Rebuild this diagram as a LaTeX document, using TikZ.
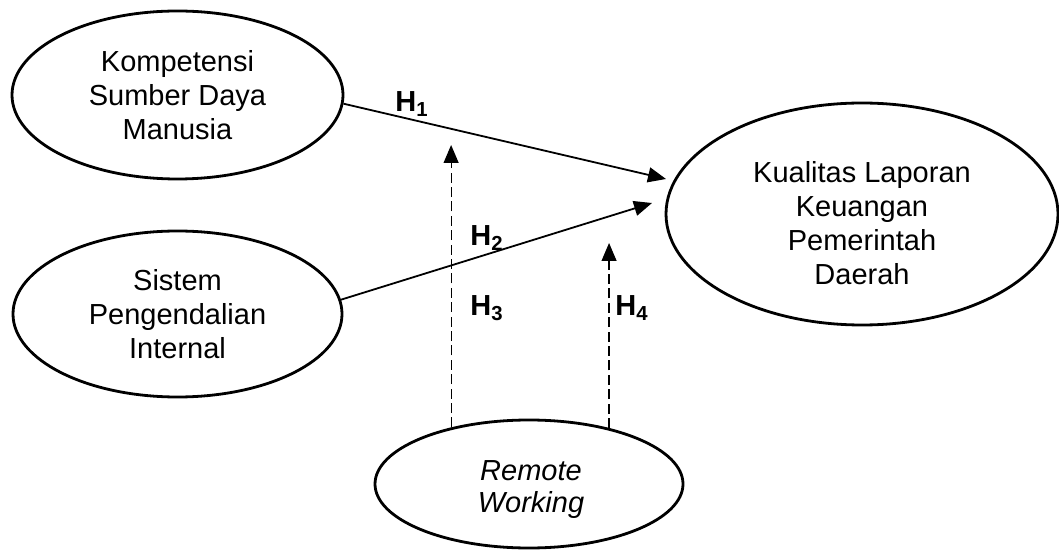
\documentclass[tikz,border=0pt]{standalone}
\usepackage{fontspec}
\setmainfont{Liberation Sans}
\usetikzlibrary{shapes.geometric,arrows.meta}
\begin{document}
\begin{tikzpicture}[x=0.5pt,y=-0.5pt,
  construct/.style={draw,ellipse,line width=1.4pt,inner sep=0pt,align=center,
    font=\fontsize{14.5}{17}\selectfont},
  ctext/.style={inner sep=0pt,align=center,font=\fontsize{14.5}{17}\selectfont},
  hyp/.style={inner sep=0pt,font=\fontsize{14.5}{17}\selectfont\bfseries},
  hyparrow/.style={line width=0.9pt,-{Triangle[length=9pt,width=7.5pt]}},
  modarrow/.style={line width=0.6pt,dash pattern=on 5pt off 2.2pt,-{Triangle[length=9pt,width=7.5pt]}}
]
\useasboundingbox (0,0) rectangle (1059,550);

% latent constructs
\node[construct,minimum width=165.5pt,minimum height=84pt] (ksdm) at (177.5,95)
  {Kompetensi\\Sumber Daya\\Manusia};
\node[construct,minimum width=164.5pt,minimum height=83pt] (spi) at (177.5,314)
  {Sistem\\Pengendalian\\Internal};
\node[construct,minimum width=196pt,minimum height=111pt] (klkpd) at (862,214) {};
\node[ctext] (klkpdtext) at (862,223)
  {Kualitas Laporan\\Keuangan\\Pemerintah\\Daerah};
\node[construct,minimum width=154pt,minimum height=64pt] (rw) at (529,484) {};
\node[ctext,font=\fontsize{14.5}{16}\selectfont\itshape] (rwtext) at (531,490)
  {Remote\\Working};

% direct effects
\coordinate (t1) at (666,179);
\coordinate (t2) at (652,203);
\draw[hyparrow] (ksdm.-3) -- (t1);
\draw[hyparrow] (spi.5) -- (t2);

% moderating effects
\coordinate (m3) at (452,145);
\coordinate (m4) at (606,243);
\draw[modarrow] (rw.144.5) -- (rw.144.5 |- m3);
\draw[modarrow] (rw.35.5) -- (rw.35.5 |- m4);

% hypothesis labels
\node[hyp] (h1) at (412,104) {H\textsubscript{1}};
\node[hyp] (h2) at (487,238) {H\textsubscript{2}};
\node[hyp] (h3) at (487,308) {H\textsubscript{3}};
\node[hyp] (h4) at (632,308) {H\textsubscript{4}};
\end{tikzpicture}
\end{document}
